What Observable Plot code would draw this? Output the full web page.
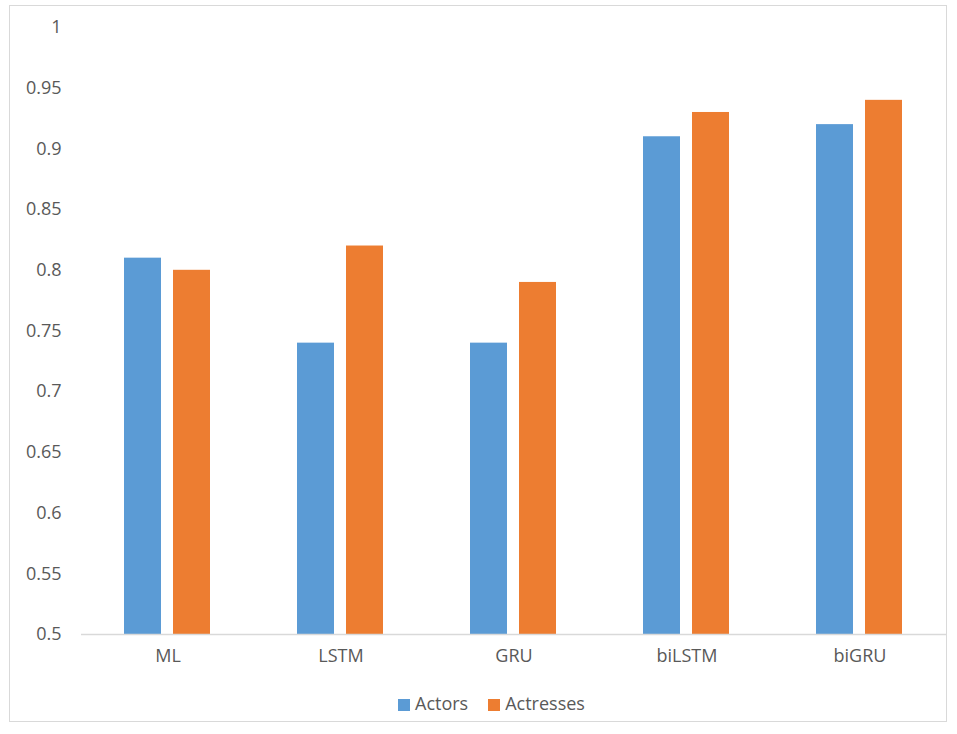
<!DOCTYPE html>
<html>
<head>
<meta charset="utf-8">
<script src="https://cdn.jsdelivr.net/npm/d3@7"></script>
<script src="https://cdn.jsdelivr.net/npm/@observablehq/plot@0.6"></script>
<style>
  body { margin: 0; background: #fff; font-family: "Open Sans", sans-serif; }
  #frame { position: absolute; left: 9px; top: 5px; width: 938px; height: 717px; border: 1px solid #d9d9d9; box-sizing: border-box; }
  #chart { position: absolute; left: 0; top: 0; }
  #legend { position: absolute; left: 398px; top: 690px; display: flex; gap: 20px; font-size: 18px; line-height: 26px; color: #595959; }
  #legend span.sw { display: inline-block; width: 12px; height: 12px; margin-right: 5px; vertical-align: -1px; }
</style>
</head>
<body>
<div id="frame"></div>
<div id="chart"></div>
<div id="legend"></div>
<script>
const categories = ["ML", "LSTM", "GRU", "biLSTM", "biGRU"];
const seriesNames = ["Actors", "Actresses"];
const actors = [0.81, 0.74, 0.74, 0.91, 0.92];
const actresses = [0.80, 0.82, 0.79, 0.93, 0.94];
const yTicks = [0.5, 0.55, 0.6, 0.65, 0.7, 0.75, 0.8, 0.85, 0.9, 0.95, 1];
const colors = ["#5B9BD5", "#ED7D31"];

const data = [];
categories.forEach((c, i) => {
  data.push({category: c, series: "Actors", value: actors[i]});
  data.push({category: c, series: "Actresses", value: actresses[i]});
});

const chart = Plot.plot({
  width: 957,
  height: 680,
  marginLeft: 80,
  marginRight: 10,
  marginTop: 27,
  marginBottom: 46,
  style: {fontFamily: "Open Sans, sans-serif", color: "#595959", background: "transparent"},
  fx: {domain: categories, padding: 0, label: null},
  x: {domain: seriesNames, axis: null, paddingInner: 0.24, paddingOuter: 0.854},
  y: {domain: [0.5, 1], label: null},
  color: {domain: seriesNames, range: colors},
  marks: [
    Plot.axisY(yTicks, {anchor: "left", tickSize: 0, tickPadding: 20, fontSize: 18, fill: "#595959", tickFormat: d => String(+d.toFixed(2)), label: null}),
    Plot.axisFx({anchor: "bottom", tickSize: 0, tickPadding: 15, fontSize: 18, fill: "#595959", label: null}),
    Plot.barY(data, {fx: "category", x: "series", y1: 0.5, y2: "value", fill: "series"}),
    Plot.ruleY([0.5], {stroke: "#d9d9d9", strokeWidth: 1.3})
  ]
});
document.getElementById("chart").appendChild(chart);

const legend = document.getElementById("legend");
seriesNames.forEach((s, i) => {
  const item = document.createElement("div");
  item.innerHTML = `<span class="sw" style="background:${colors[i]}"></span>${s}`;
  legend.appendChild(item);
});
</script>
</body>
</html>
